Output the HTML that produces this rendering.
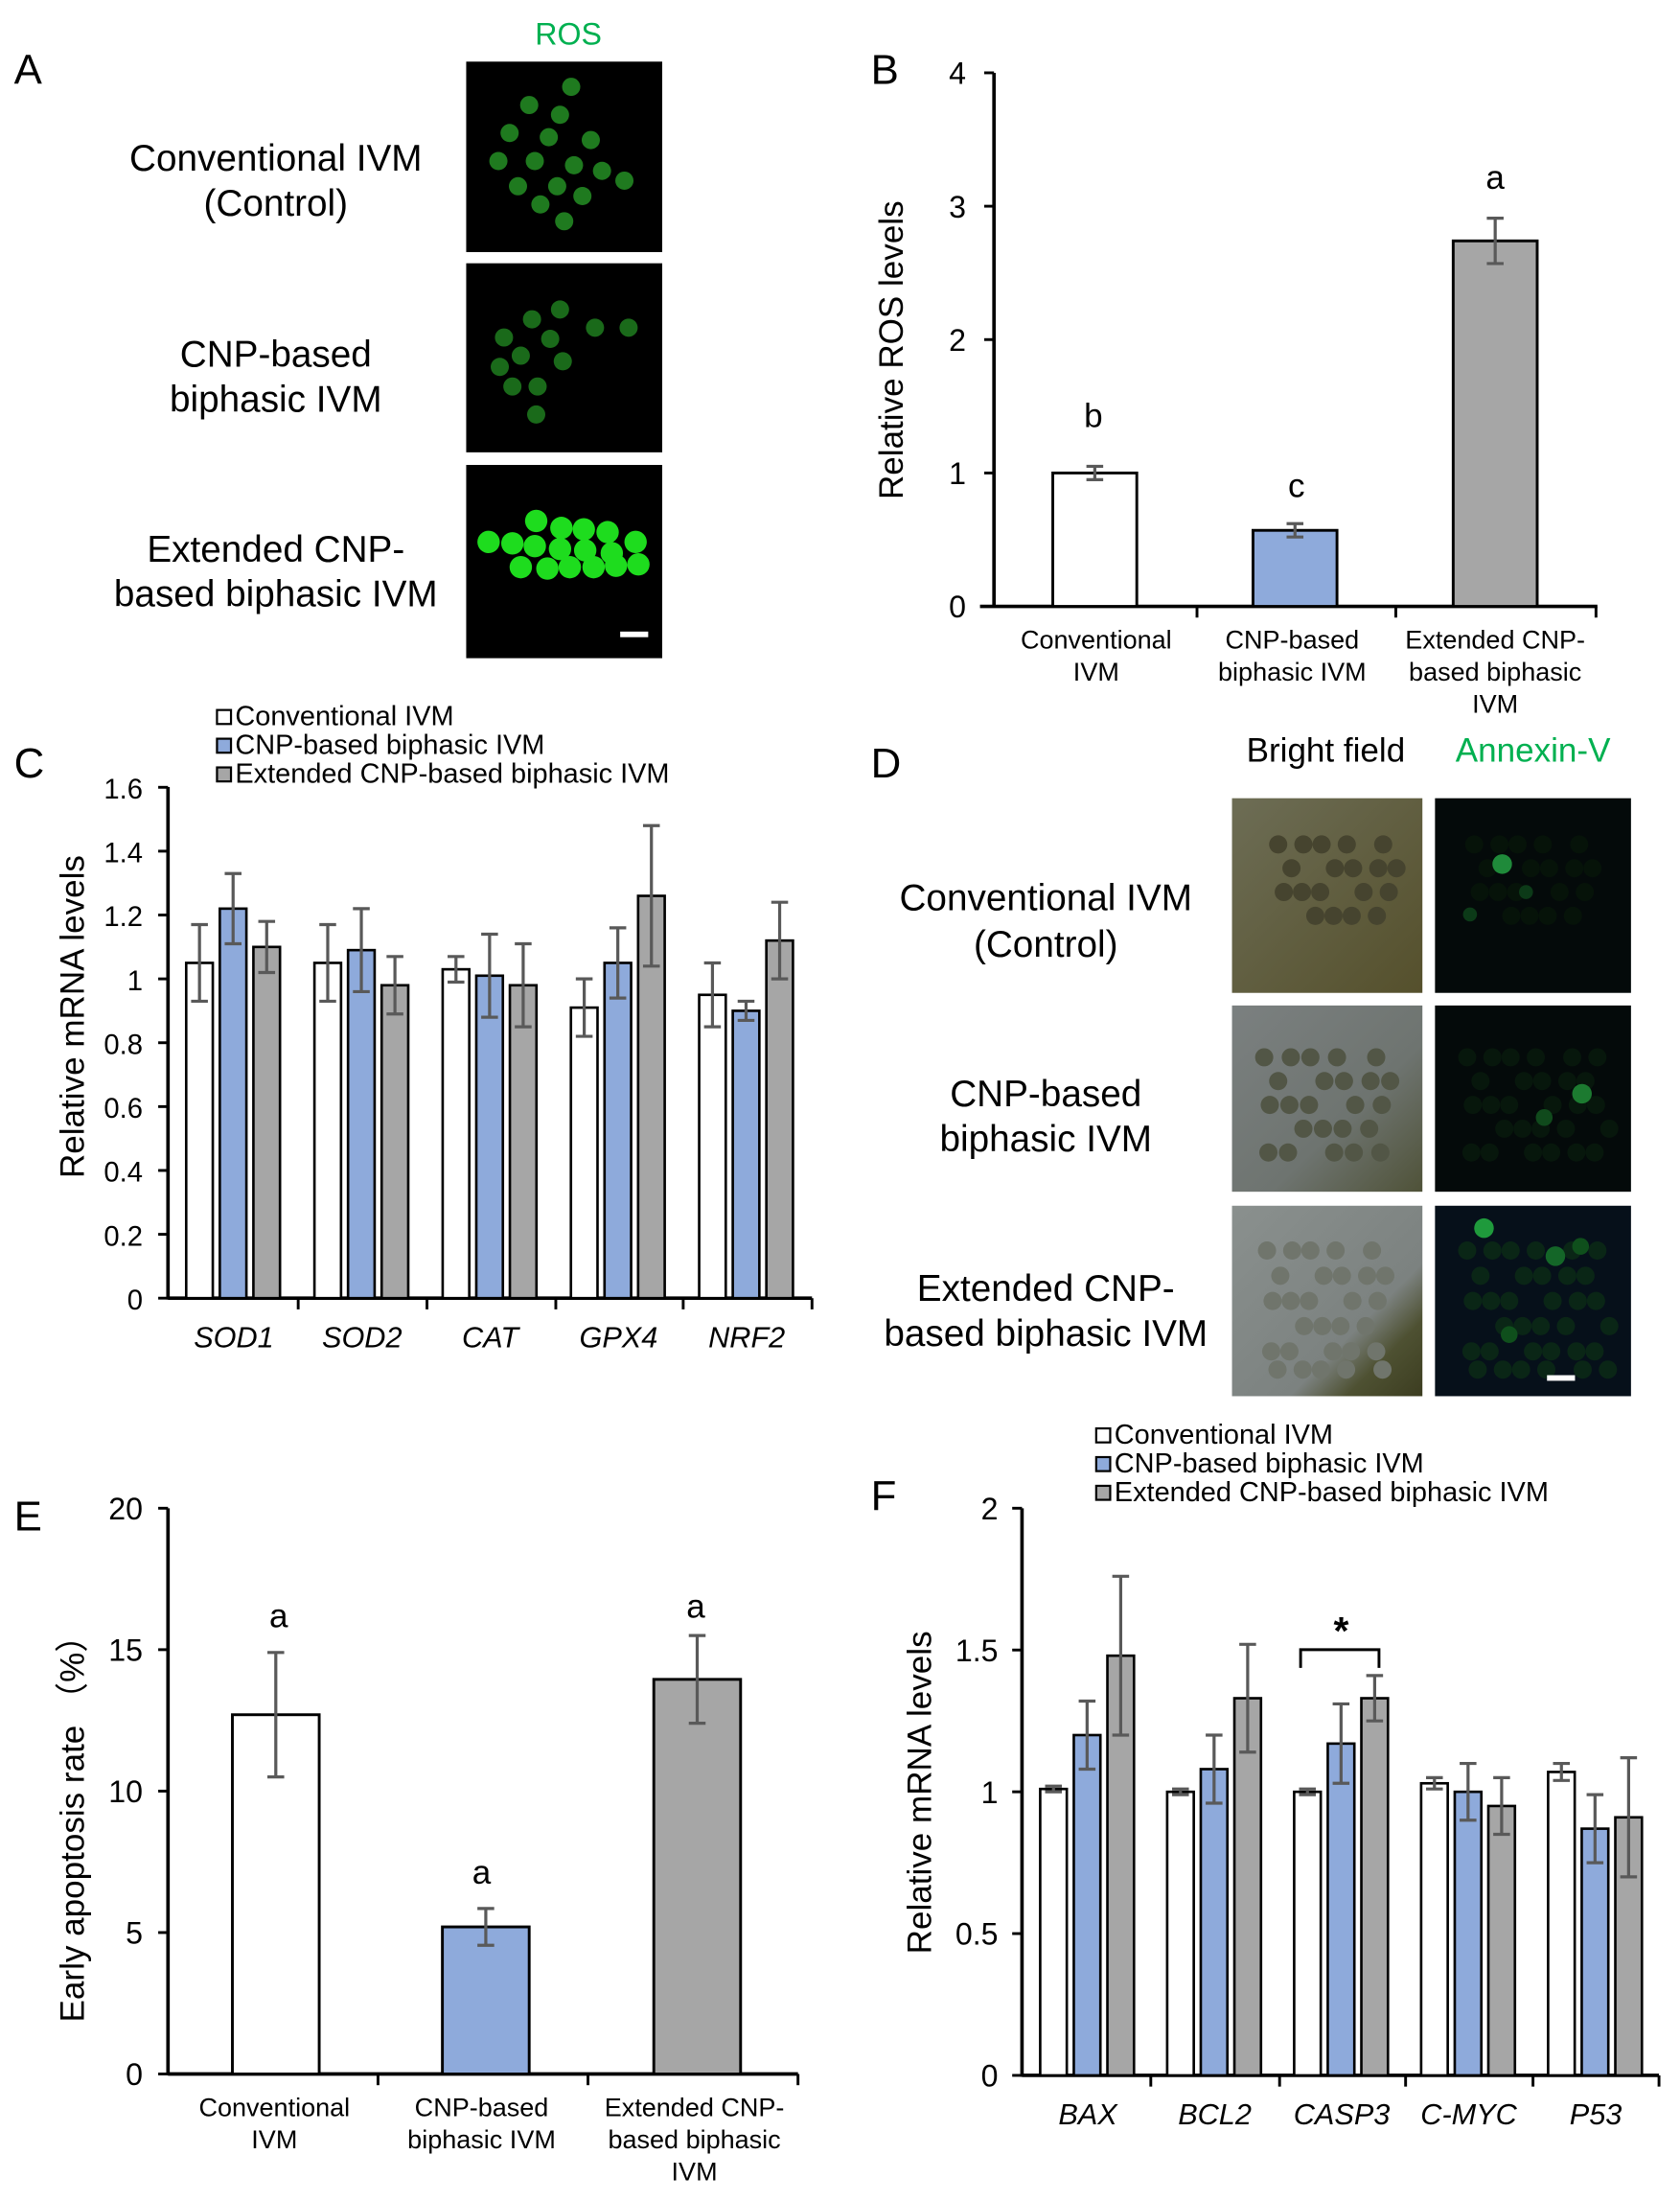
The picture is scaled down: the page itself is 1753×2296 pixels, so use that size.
<!DOCTYPE html>
<html><head><meta charset="utf-8"><style>
html,body{margin:0;padding:0;background:#fff}
svg{display:block}
text{font-family:"Liberation Sans",Arial,sans-serif;fill:#000}
</style></head><body>
<svg id="s" width="1753" height="2296" viewBox="0 0 1200 1571.7" preserveAspectRatio="none" xmlns="http://www.w3.org/2000/svg">
<defs>
<linearGradient id="bf1" x1="0" y1="0" x2="1" y2="1"><stop offset="0" stop-color="#6d6d55"/><stop offset="1" stop-color="#55502c"/></linearGradient>
<linearGradient id="bf2" x1="0" y1="0" x2="1" y2="1"><stop offset="0" stop-color="#7b8080"/><stop offset="0.6" stop-color="#6e7470"/><stop offset="1" stop-color="#4f5238"/></linearGradient>
<linearGradient id="bf3" x1="0" y1="0" x2="1" y2="1"><stop offset="0" stop-color="#8a908e"/><stop offset="0.65" stop-color="#7c8280"/><stop offset="0.8" stop-color="#4e5132"/><stop offset="1" stop-color="#3c3d20"/></linearGradient>
</defs>
<g id="g"></g>
</svg>
<script>
var o='';
function T(x,y,s,size,anchor,extra){o+='<text x="'+x+'" y="'+y+'" font-size="'+size+'" text-anchor="'+(anchor||'middle')+'" '+(extra||'')+'>'+s+'</text>';}
function L(x1,y1,x2,y2,c,w){o+='<line x1="'+x1+'" y1="'+y1+'" x2="'+x2+'" y2="'+y2+'" stroke="'+(c||'#000')+'" stroke-width="'+(w||2)+'"/>';}
function R(x,y,w,h,f,s,sw){o+='<rect x="'+x+'" y="'+y+'" width="'+w+'" height="'+h+'" fill="'+f+'"'+(s?' stroke="'+s+'" stroke-width="'+(sw||2)+'"':'')+'/>';}
function C(x,y,r,f){o+='<circle cx="'+x+'" cy="'+y+'" r="'+r+'" fill="'+f+'"/>';}
var W='#ffffff',B='#8eaadb',G='#a6a6a6',E='#595959';
function err(x,yv,ye,sc,y0){var a=y0-(yv+ye)*sc,b=y0-(yv-ye)*sc;L(x,a,x,b,E,2.2);L(x-6,a,x+6,a,E,2.2);L(x-6,b,x+6,b,E,2.2);}
// Panel A
T(10,60,'A',30,'start');
T(406,32,'ROS',22,'middle','style="fill:#00b050"');
R(333,44,140,136,'#000');R(333,188,140,135,'#000');R(333,332,140,138,'#000');
[[408,62],[378,75],[400,82],[364,95],[392,98],[422,100],[356,115],[382,115],[410,118],[430,122],[446,129],[370,133],[398,133],[416,140],[386,146],[403,158]].forEach(function(p){C(p[0],p[1],6.5,'#1f7a1f');});
[[400,221],[380,228],[425,234],[449,234],[360,241],[393,242],[372,254],[402,258],[357,262],[366,276],[384,276],[383,296]].forEach(function(p){C(p[0],p[1],6.5,'#1a6a1a');});
[[383,372],[401,377],[417,378],[434,380],[349,387],[366,388],[382,390],[400,392],[418,393],[437,395],[454,387],[372,405],[391,406],[407,405],[424,405],[440,404],[456,403]].forEach(function(p){C(p[0],p[1],8,'#1edc1e');});
R(443,451,20,4,'#fff');
T(197,122,'Conventional IVM',26.5);T(197,154,'(Control)',26.5);
T(197,262,'CNP-based',26.5);T(197,294,'biphasic IVM',26.5);
T(197,401,'Extended CNP-',26.5);T(197,433,'based biphasic IVM',26.5);
// Panel B
T(622,60,'B',30,'start');
var y0=433,sc=95.25;
L(710,52,710,434,'#000',2.5);L(700,433,1141,433,'#000',2.5);
for(var i=0;i<=4;i++){L(703,y0-i*sc,710,y0-i*sc);T(690,y0-i*sc+8,i,22,'end');}
[855,997,1140].forEach(function(x){L(x,433,x,441);});
[[752,1,0.05,W],[895,0.57,0.05,B],[1038,2.74,0.17,G]].forEach(function(b){R(b[0],y0-b[1]*sc,60,b[1]*sc,b[3],'#000',2);err(b[0]+30,b[1],b[2],sc,y0);});
T(781,305,'b',24);T(926,355,'c',24);T(1068,135,'a',24);
o+='<text transform="translate(645,250) rotate(-90)" font-size="24" text-anchor="middle">Relative ROS levels</text>';
T(783,463,'Conventional',18.5);T(783,486,'IVM',18.5);
T(923,463,'CNP-based',18.5);T(923,486,'biphasic IVM',18.5);
T(1068,463,'Extended CNP-',18.5);T(1068,486,'based biphasic',18.5);T(1068,509,'IVM',18.5);
function leg(x,y){[[W,'Conventional IVM'],[B,'CNP-based biphasic IVM'],[G,'Extended CNP-based biphasic IVM']].forEach(function(l,i){R(x,y+i*20.5-11,10,10,l[0],'#000',1.5);T(x+13,y+i*20.5,l[1],19.8,'start');});}
// Panel C
T(10,555,'C',30,'start');leg(155,518);
y0=927;sc=228;
L(120,562,120,928,'#000',2.5);L(120,927,580,927,'#000',2.5);
for(var i=0;i<=8;i++){var v=(i*0.2);L(113,y0-v*sc,120,y0-v*sc);T(102,y0-v*sc+8,i==0?'0':(i==5?'1':v.toFixed(1)),20,'end');}
[213,305,397,488,580].forEach(function(x){L(x,927,x,935);});
var cd=[['SOD1',[1.05,1.22,1.10],[0.12,0.11,0.08]],['SOD2',[1.05,1.09,0.98],[0.12,0.13,0.09]],['CAT',[1.03,1.01,0.98],[0.04,0.13,0.13]],['GPX4',[0.91,1.05,1.26],[0.09,0.11,0.22]],['NRF2',[0.95,0.90,1.12],[0.10,0.03,0.12]]];
cd.forEach(function(g,j){var cx=167+j*91.6;[W,B,G].forEach(function(c,k){var x=cx-34+k*24;R(x,y0-g[1][k]*sc,19,g[1][k]*sc,c,'#000',1.8);err(x+9.5,g[1][k],g[2][k],sc,y0);});T(cx,962,g[0],21,'middle','font-style="italic"');});
o+='<text transform="translate(60,726) rotate(-90)" font-size="24" text-anchor="middle">Relative mRNA levels</text>';
// Panel D
T(622,555,'D',30,'start');
T(947,544,'Bright field',24);T(1095,544,'Annexin-V',24,'middle','style="fill:#00b050"');
var rows=[[570,139],[718,133],[861,136]];
['url(#bf1)','url(#bf2)','url(#bf3)'].forEach(function(f,i){R(880,rows[i][0],136,rows[i][1],f);R(1025,rows[i][0],140,rows[i][1],i==2?'#06101a':'#040a0a');});
function grid(x0,y0,cols,rowsN,dx,dy,r,f){for(var a=0;a<rowsN;a++)for(var b=0;b<cols;b++){if((a*3+b)%5==4)continue;C(x0+b*dx+(a%2)*dx/2+((a*7+b*3)%5-2),y0+a*dy+((a+b*5)%5-2),r,f);}}
grid(915,605,6,4,15,16,6.5,'#46442f');
grid(905,757,6,5,16,16,6.5,'#525646');
grid(907,895,6,6,15,17,6.5,'#70756c');
grid(1055,605,6,4,15,16,6.5,'#061309');grid(1050,757,7,5,15,16,6.5,'#07170c');grid(1050,895,7,6,15,17,6.5,'#0a2616');
C(1073,617,7,'#1f8a3a');C(1130,781,7,'#1c7a30');C(1103,798,6,'#104a1c');C(1060,877,7,'#1f9a3c');C(1111,897,7,'#146628');C(1078,953,6,'#0f4f1c');C(1129,890,6,'#0f4f1c');C(1050,653,5,'#0c3a18');C(1090,637,5,'#0c3a18');
R(1105,982,20,4,'#fff');
T(747,650,'Conventional IVM',26.5);T(747,683,'(Control)',26.5);
T(747,790,'CNP-based',26.5);T(747,822,'biphasic IVM',26.5);
T(747,929,'Extended CNP-',26.5);T(747,961,'based biphasic IVM',26.5);
// Panel E
T(10,1093,'E',30,'start');
y0=1481;sc=20.2;
L(120,1077,120,1482,'#000',2.5);L(120,1481,570,1481,'#000',2.5);
for(var i=0;i<=4;i++){L(113,y0-i*5*sc,120,y0-i*5*sc);T(102,y0-i*5*sc+8,i*5,22,'end');}
[270,420,570].forEach(function(x){L(x,1481,x,1489);});
[[166,12.7,2.2,W],[316,5.2,0.65,B],[467,13.95,1.55,G]].forEach(function(b){R(b[0],y0-b[1]*sc,62,b[1]*sc,b[3],'#000',2);err(b[0]+31,b[1],b[2],sc,y0);});
T(199,1162,'a',24);T(344,1345,'a',24);T(497,1155,'a',24);
o+='<text transform="translate(60,1300) rotate(-90)" font-size="24" text-anchor="middle">Early apoptosis rate （%）</text>';
T(196,1511,'Conventional',18.5);T(196,1534,'IVM',18.5);
T(344,1511,'CNP-based',18.5);T(344,1534,'biphasic IVM',18.5);
T(496,1511,'Extended CNP-',18.5);T(496,1534,'based biphasic',18.5);T(496,1557,'IVM',18.5);
// Panel F
T(622,1078,'F',30,'start');leg(783,1031);
y0=1482;sc=202.5;
L(730,1077,730,1483,'#000',2.5);L(730,1482,1185,1482,'#000',2.5);
['0','0.5','1','1.5','2'].forEach(function(s,i){var y=y0-i*0.5*sc;L(723,y,730,y);T(713,y+8,s,22,'end');});
[822,914,1004,1095,1185].forEach(function(x){L(x,1482,x,1490);});
var fd=[['BAX',[1.01,1.20,1.48],[0.01,0.12,0.28]],['BCL2',[1.0,1.08,1.33],[0.01,0.12,0.19]],['CASP3',[1.0,1.17,1.33],[0.01,0.14,0.08]],['C-MYC',[1.03,1.0,0.95],[0.02,0.1,0.1]],['P53',[1.07,0.87,0.91],[0.03,0.12,0.21]]];
fd.forEach(function(g,j){var cx=777+j*90.7;[W,B,G].forEach(function(c,k){var x=cx-34+k*24;R(x,y0-g[1][k]*sc,19,g[1][k]*sc,c,'#000',1.8);err(x+9.5,g[1][k],g[2][k],sc,y0);});T(cx,1517,g[0],21,'middle','font-style="italic"');});
o+='<path d="M929,1191 L929,1178 L985,1178 L985,1191" fill="none" stroke="#000" stroke-width="2"/>';
T(958,1174,'*',28,'middle','font-weight="bold"');
o+='<text transform="translate(665,1280) rotate(-90)" font-size="24" text-anchor="middle">Relative mRNA levels</text>';
document.getElementById('g').innerHTML=o;
</script>
</body></html>
